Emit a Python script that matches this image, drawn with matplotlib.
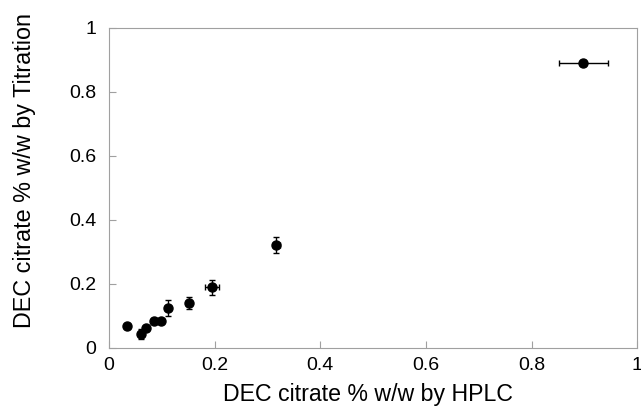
import numpy as np
import matplotlib
matplotlib.use("Agg")
from matplotlib import pyplot as plt

plt.rcParams['font.family'] = ['Liberation Sans', 'DejaVu Sans']

# DEC citrate % w/w: HPLC (x) vs titration (y)
hplc = [0.034, 0.060, 0.071, 0.085, 0.098, 0.111, 0.151, 0.195, 0.317, 0.898]
titration = [0.068, 0.042, 0.061, 0.084, 0.084, 0.125, 0.139, 0.188, 0.321, 0.889]
hplc_err = [0.002, 0.003, 0.003, 0.004, 0.004, 0.004, 0.005, 0.013, 0.006, 0.046]
titration_err = [0.004, 0.016, 0.008, 0.008, 0.004, 0.025, 0.018, 0.022, 0.024, 0.010]

fig = plt.figure(figsize=(6.41, 4.08), dpi=100)
ax = fig.add_axes([0.170, 0.148, 0.824, 0.784])

ax.errorbar(hplc, titration, xerr=hplc_err, yerr=titration_err,
            fmt='o', color='black', markersize=6.5, capsize=2.5,
            elinewidth=1, capthick=1)

ax.set_xlim(0, 1)
ax.set_ylim(0, 1)
ax.set_xticks([0, 0.2, 0.4, 0.6, 0.8, 1])
ax.set_yticks([0, 0.2, 0.4, 0.6, 0.8, 1])
ax.set_xticklabels(['0', '0.2', '0.4', '0.6', '0.8', '1'])
ax.set_yticklabels(['0', '0.2', '0.4', '0.6', '0.8', '1'])
ax.tick_params(direction='in', length=5, color='#a0a0a0', labelsize=14,
               top=False, right=False)
ax.tick_params(axis='x', pad=7)
ax.tick_params(axis='y', pad=9)
for s in ax.spines.values():
    s.set_color('#a0a0a0')
    s.set_linewidth(0.8)

ax.set_xlabel('DEC citrate % w/w by HPLC', fontsize=16.7)
ax.set_ylabel('DEC citrate % w/w by Titration', fontsize=16.8)
ax.xaxis.set_label_coords(0.49, -0.112)
ax.yaxis.set_label_coords(-0.139, 0.555)

fig.savefig('out.png', dpi=100)
